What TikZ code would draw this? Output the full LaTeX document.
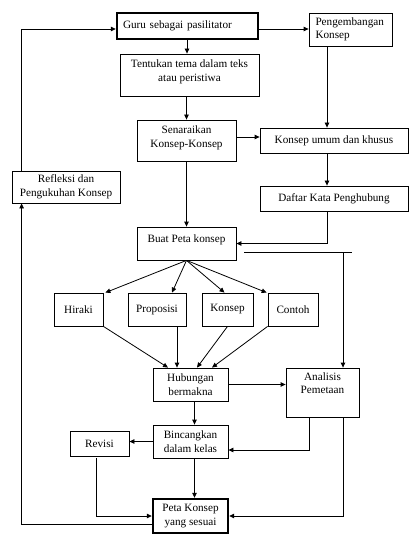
\documentclass[tikz,border=0pt]{standalone}
\usepackage{fontspec}
\setmainfont{Liberation Serif}
\usetikzlibrary{arrows.meta}
\newcommand\fsz{\fontsize{11.2}{13.5}\selectfont}
\newcommand\liftup[2]{\raisebox{0pt}[\height][\dimexpr\depth+#1\relax]{#2}}
\begin{document}
\begin{tikzpicture}[x=1pt,y=-1pt,
  box/.style={draw, line width=0.8pt, inner sep=0pt, align=center, font=\fsz},
  thickbox/.style={box, line width=2.4pt},
  arr/.style={line width=0.8pt, -{Triangle[length=5pt,width=4.5pt]}},
  ln/.style={line width=0.8pt}]
\useasboundingbox (0,0) rectangle (416,545);
% boxes
\node[thickbox, minimum height=26pt, text width=129pt, inner xsep=6pt, align=left] (guru) at (187.5,26) {Guru sebagai pasilitator};
\node[box, minimum height=33pt, text width=70pt, inner xsep=6.5pt, align=left] (peng) at (350.5,29.5) {Pengembangan\\Konsep};
\node[box, minimum width=139pt, minimum height=42pt] (tent) at (189.5,75) {\liftup{6pt}{\begin{tabular}{@{}c@{}}Tentukan tema dalam teks\\atau peristiwa\end{tabular}}};
\node[box, minimum width=99pt, minimum height=41pt] (senar) at (186.5,140.5) {\liftup{5pt}{\begin{tabular}{@{}c@{}}Senaraikan\\Konsep-Konsep\end{tabular}}};
\node[box, minimum width=148pt, minimum height=25pt] (umum) at (334,140.5) {Konsep umum dan khusus};
\node[box, minimum width=148pt, minimum height=25pt] (daftar) at (334,198.5) {Daftar Kata Penghubung};
\node[box, minimum width=108pt, minimum height=32pt] (refl) at (66,187) {Refleksi dan\\Pengukuhan Konsep};
\node[box, minimum width=99pt, minimum height=33pt] (buat) at (186.5,243.5) {\liftup{8pt}{Buat Peta konsep}};
\node[box, minimum width=49pt, minimum height=33pt] (hir) at (78.5,309.5) {Hiraki};
\node[box, minimum width=58pt, minimum height=33pt] (prop) at (157,309.5) {Proposisi};
\node[box, minimum width=51pt, minimum height=33pt] (kons) at (227.5,309.5) {Konsep};
\node[box, minimum width=50pt, minimum height=33pt] (cont) at (293,309.5) {Contoh};
\node[box, minimum width=75pt, minimum height=33pt] (hub) at (190.5,384.5) {Hubungan\\bermakna};
\node[box, minimum width=73pt, minimum height=49pt] (anal) at (322.5,392.5) {\liftup{16pt}{\begin{tabular}{@{}c@{}}Analisis\\Pemetaan\end{tabular}}};
\node[box, minimum width=75pt, minimum height=33pt] (binc) at (190.5,441.5) {Bincangkan\\dalam kelas};
\node[box, minimum width=59pt, minimum height=25pt] (rev) at (99.5,443.5) {Revisi};
\node[thickbox, minimum width=75pt, minimum height=34pt] (peta) at (190.5,516) {Peta Konsep\\yang sesuai};
% connectors
\draw[arr] (guru.south -| tent.north) ++(-2.5,0) coordinate (g1) -- (g1 |- tent.north);
\draw[arr] ([yshift=-3pt]guru.east) -- ([yshift=-3pt]guru.east -| peng.west);
\draw[arr] (senar.north |- tent.south) -- (senar.north);
\draw[arr] ([xshift=-7pt]umum.north |- peng.south) -- ([xshift=-7pt]umum.north);
\draw[arr] ([yshift=3.5pt]senar.east) -- ([yshift=3.5pt]senar.east -| umum.west);
\draw[arr] ([xshift=-7pt]umum.south) -- ([xshift=-7pt]daftar.north);
\draw[arr] ([xshift=-7pt]daftar.south) |- (buat.east);
\draw[arr] (senar.south) -- (buat.north);
\coordinate (j1) at (244,252);
\coordinate (j2) at (352,252);
\coordinate (jx) at (343,252);
\draw[ln] (j1) -- (j2);
\draw[arr] (jx) -- (jx |- anal.north);
\draw[arr] (buat.south) -- ([xshift=2pt]hir.north east);
\draw[arr] (buat.south) -- ([xshift=15pt]prop.north);
\draw[arr] (buat.south) -- ([xshift=-3pt]kons.north);
\draw[arr] (buat.south) -- ([xshift=-1pt]cont.north west);
\draw[arr] (hir.south east) -- ([xshift=-22.5pt]hub.north);
\draw[arr] ([xshift=20pt]prop.south) -- ([xshift=20pt]prop.south |- hub.north);
\draw[arr] (kons.south) -- ([xshift=6.5pt]hub.north);
\draw[arr] (cont.south west) -- ([xshift=21.5pt]hub.north);
\draw[arr] (hub.east) -- (hub.east -| anal.west);
\draw[arr] ([xshift=4pt]hub.south) -- ([xshift=4pt]binc.north);
\draw[arr] (binc.west) -- (binc.west -| rev.east);
\draw[arr] ([xshift=-13.5pt]anal.south) |- ([yshift=-8.5pt]binc.east);
\draw[arr] ([xshift=20.5pt]anal.south) |- (peta.east);
\draw[arr] ([xshift=4pt]binc.south) -- ([xshift=4pt]peta.north);
\draw[arr] ([xshift=-3.5pt,yshift=-2pt]rev.south) |- (peta.west);
\draw[arr] ([yshift=-8pt]peta.west) -| ([xshift=10pt]refl.south west);
\draw[arr] ([xshift=10pt]refl.north west) |- ([yshift=-3pt]guru.west);
\end{tikzpicture}
\end{document}
